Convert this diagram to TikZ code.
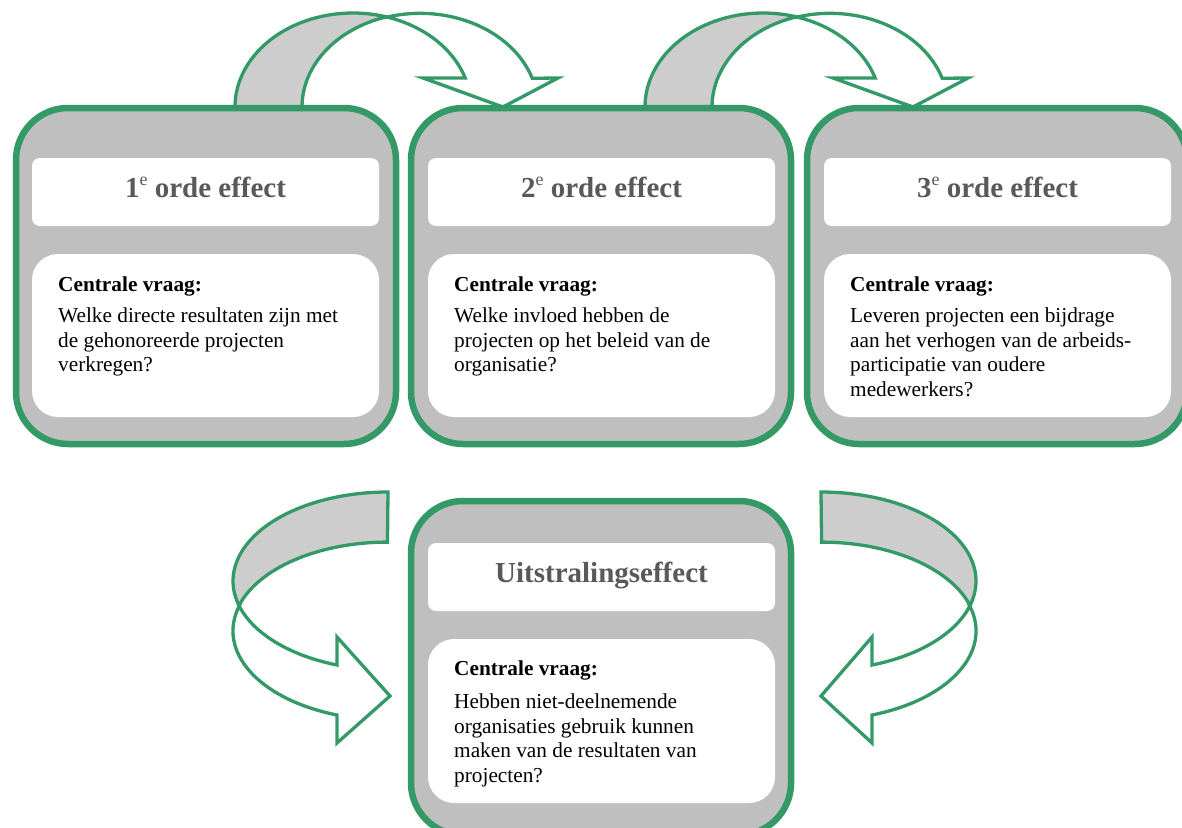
\documentclass[tikz,border=0pt]{standalone}
\usepackage{fontspec}
\setmainfont{Liberation Serif}
\definecolor{grn}{HTML}{339966}
\definecolor{boxgray}{HTML}{BFBFBF}
\definecolor{bandgray}{HTML}{CDCDCD}
\definecolor{titlegray}{HTML}{595959}
\newcommand{\ordsup}{\raisebox{12.5pt}{\fontsize{18}{18}\selectfont\mdseries e}}
\tikzset{
  bigbox/.style={draw=grn, line width=6.5pt, fill=boxgray, rounded corners=52pt, minimum width=380pt, minimum height=336pt, inner sep=0pt},
  titlebox/.style={fill=white, rounded corners=8pt, minimum width=347pt, minimum height=68pt, inner sep=0pt, text height=11pt, text depth=0pt, font=\fontsize{29}{34}\selectfont\bfseries, text=titlegray},
  contentbox/.style={fill=white, rounded corners=26pt, minimum width=347pt, minimum height=163pt, inner sep=0pt},
  qtext/.style={anchor=north west, inner sep=0pt, align=left, font=\fontsize{21.3}{24.6}\selectfont},
  arrowline/.style={draw=grn, line width=3.3pt, line join=miter},
  backband/.style={arrowline, fill=bandgray},
  frontband/.style={arrowline, fill=white},
}
\begin{document}
\begin{tikzpicture}[x=1pt,y=1pt]
\useasboundingbox (0,0) rectangle (1182,-827);
\begin{scope}
\clip (0,0) rectangle (1182,-827);
% top arrows
\foreach \s in {0,410}{
\begin{scope}[xshift=\s pt]
\draw[backband] (235,-107) arc[start angle=180, end angle=73.5, x radius=118, y radius=94]
  arc[start angle=106.5, end angle=180, x radius=118, y radius=94] -- cycle;
\draw[frontband] (386.5,-17.2) arc[start angle=106.5, end angle=18, x radius=118, y radius=94]
  -- (558,-78) -- (503,-107) -- (423,-78) -- (465.2,-78)
  arc[start angle=18, end angle=73.5, x radius=118, y radius=94] -- cycle;
\end{scope}}
% bottom-left arrow
\draw[backband] (388,-492) arc[start angle=90, end angle=196, x radius=155, y radius=89]
  arc[start angle=163.3, end angle=90, x radius=155, y radius=89] -- cycle;
\draw[frontband] (239,-605.5) arc[start angle=196, end angle=250.8, x radius=155, y radius=89]
  -- (337,-637) -- (390,-696) -- (337,-743) -- (337,-715)
  arc[start angle=250.8, end angle=163.3, x radius=155, y radius=89] -- cycle;
% bottom-right arrow
\draw[backband] (821,-492) arc[start angle=90, end angle=-16, x radius=155, y radius=89]
  arc[start angle=16.7, end angle=90, x radius=155, y radius=89] -- cycle;
\draw[frontband] (970,-605.5) arc[start angle=-16, end angle=-70.8, x radius=155, y radius=89]
  -- (872,-637) -- (821,-696) -- (872,-743) -- (872,-715)
  arc[start angle=-70.8, end angle=16.7, x radius=155, y radius=89] -- cycle;
% boxes
\node[bigbox] (b1) at (206,-276) {};
\node[bigbox] (b2) at (601,-276) {};
\node[bigbox] (b3) at (997,-276) {};
\node[bigbox, minimum height=334pt] (b4) at (601,-668) {};
% titles
\node[titlebox] (t1) at (205.5,-192) {1\ordsup\ orde effect};
\node[titlebox] (t2) at (601.5,-192) {2\ordsup\ orde effect};
\node[titlebox] (t3) at (997.5,-192) {3\ordsup\ orde effect};
\node[titlebox] (t4) at (601.5,-577) {Uitstralingseffect};
% content boxes
\node[contentbox] (c1) at (205.5,-335.5) {};
\node[contentbox] (c2) at (601.5,-335.5) {};
\node[contentbox] (c3) at (997.5,-335.5) {};
\node[contentbox, minimum height=164pt] (c4) at (601.5,-721) {};
% texts
\node[qtext] (q1) at (58,-276.5) {\textbf{Centrale vraag:}\\[6.5pt]Welke directe resultaten zijn met\\de gehonoreerde projecten\\verkregen?};
\node[qtext] (q2) at (454,-276.5) {\textbf{Centrale vraag:}\\[6.5pt]Welke invloed hebben de\\projecten op het beleid van de\\organisatie?};
\node[qtext] (q3) at (850,-276.5) {\textbf{Centrale vraag:}\\[6.5pt]Leveren projecten een bijdrage\\aan het verhogen van de arbeids-\\participatie van oudere\\medewerkers?};
\node[qtext] (q4) at (454,-660.5) {\textbf{Centrale vraag:}\\[8.5pt]Hebben niet-deelnemende\\organisaties gebruik kunnen\\maken van de resultaten van\\projecten?};
\end{scope}
\end{tikzpicture}
\end{document}
